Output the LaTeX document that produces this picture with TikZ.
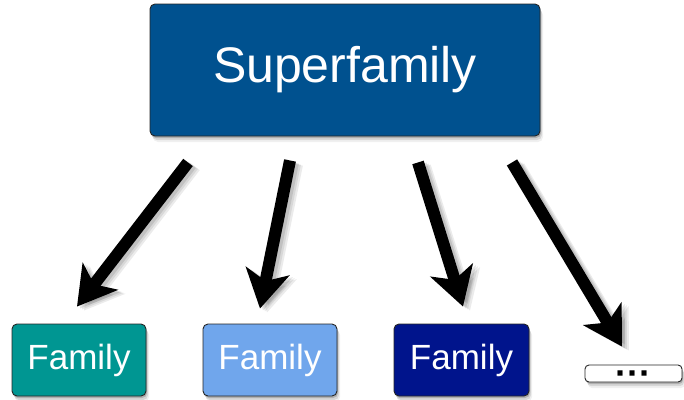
\documentclass[tikz,border=0pt]{standalone}
\usepackage{fontspec}
\setmainfont{Liberation Sans}
\usetikzlibrary{arrows.meta,shadows,calc}
\definecolor{supblue}{RGB}{0,81,143}
\definecolor{famteal}{RGB}{0,150,146}
\definecolor{famlight}{RGB}{112,166,236}
\definecolor{famnavy}{RGB}{0,20,140}
\tikzset{
  softshadow/.style={
    drop shadow={shadow xshift=1pt,shadow yshift=-2pt,opacity=.18,fill=black},
    drop shadow={shadow xshift=2pt,shadow yshift=-4pt,opacity=.10,fill=black},
    drop shadow={shadow xshift=3pt,shadow yshift=-6pt,opacity=.06,fill=black}},
  box/.style={draw=black!85, line width=0.9pt, rounded corners=5pt, text=white,
    inner sep=0pt, softshadow},
  bigarrow/.style={line width=12pt, line cap=butt,
    -{Stealth[length=38pt,width=44pt,inset=10pt]}},
  arrowshade/.style={bigarrow, draw=black, opacity=#1},
}
\newcommand{\shadedarrow}[2]{%
  \draw[arrowshade=.08, transform canvas={xshift=7pt,yshift=-4pt}] (#1) -- (#2);
  \draw[arrowshade=.08, transform canvas={xshift=5pt,yshift=-3pt}] (#1) -- (#2);
  \draw[arrowshade=.10, transform canvas={xshift=3pt,yshift=-2pt}] (#1) -- (#2);
  \draw[bigarrow] (#1) -- (#2);
}
\begin{document}
\begin{tikzpicture}[x=1pt,y=-1pt]
\useasboundingbox[fill=white] (0,0) rectangle (684,399);

\node[box, fill=supblue, minimum width=390pt, minimum height=132pt,
  font=\fontsize{50}{60}\selectfont] (sup) at (345,70) {Superfamily};

\node[box, fill=famteal, minimum width=134pt, minimum height=72pt,
  font=\fontsize{35}{42}\selectfont] (f1) at (79,360) {Family};
\node[box, fill=famlight, minimum width=134pt, minimum height=72pt,
  font=\fontsize{35}{42}\selectfont] (f2) at (270,360) {Family};
\node[box, fill=famnavy, minimum width=135pt, minimum height=72pt,
  font=\fontsize{35}{42}\selectfont] (f3) at (461.5,360) {Family};
\node[box, fill=white, text=black, minimum width=97pt, minimum height=17pt,
  text height=6pt, text depth=6pt, rounded corners=4pt,
  font=\bfseries\fontsize{36}{36}\selectfont] (f4) at (633.5,373.5)
  {\raisebox{-0.33em}{···}};

\coordinate (s1) at ($(sup.south)+(-157,26)$);
\coordinate (s2) at ($(sup.south)+(-55,24)$);
\coordinate (s3) at ($(sup.south)+(73,26)$);
\coordinate (s4) at ($(sup.south)+(167,26)$);
\coordinate (e1) at ($(f1.north)+(-2,-17)$);
\coordinate (e2) at ($(f2.north)+(-10,-15)$);
\coordinate (e3) at ($(f3.north)+(1.5,-17)$);
\coordinate (e4) at ($(f4.north)+(-11.5,-18)$);

\shadedarrow{s1}{e1}
\shadedarrow{s2}{e2}
\shadedarrow{s3}{e3}
\shadedarrow{s4}{e4}
\end{tikzpicture}
\end{document}
